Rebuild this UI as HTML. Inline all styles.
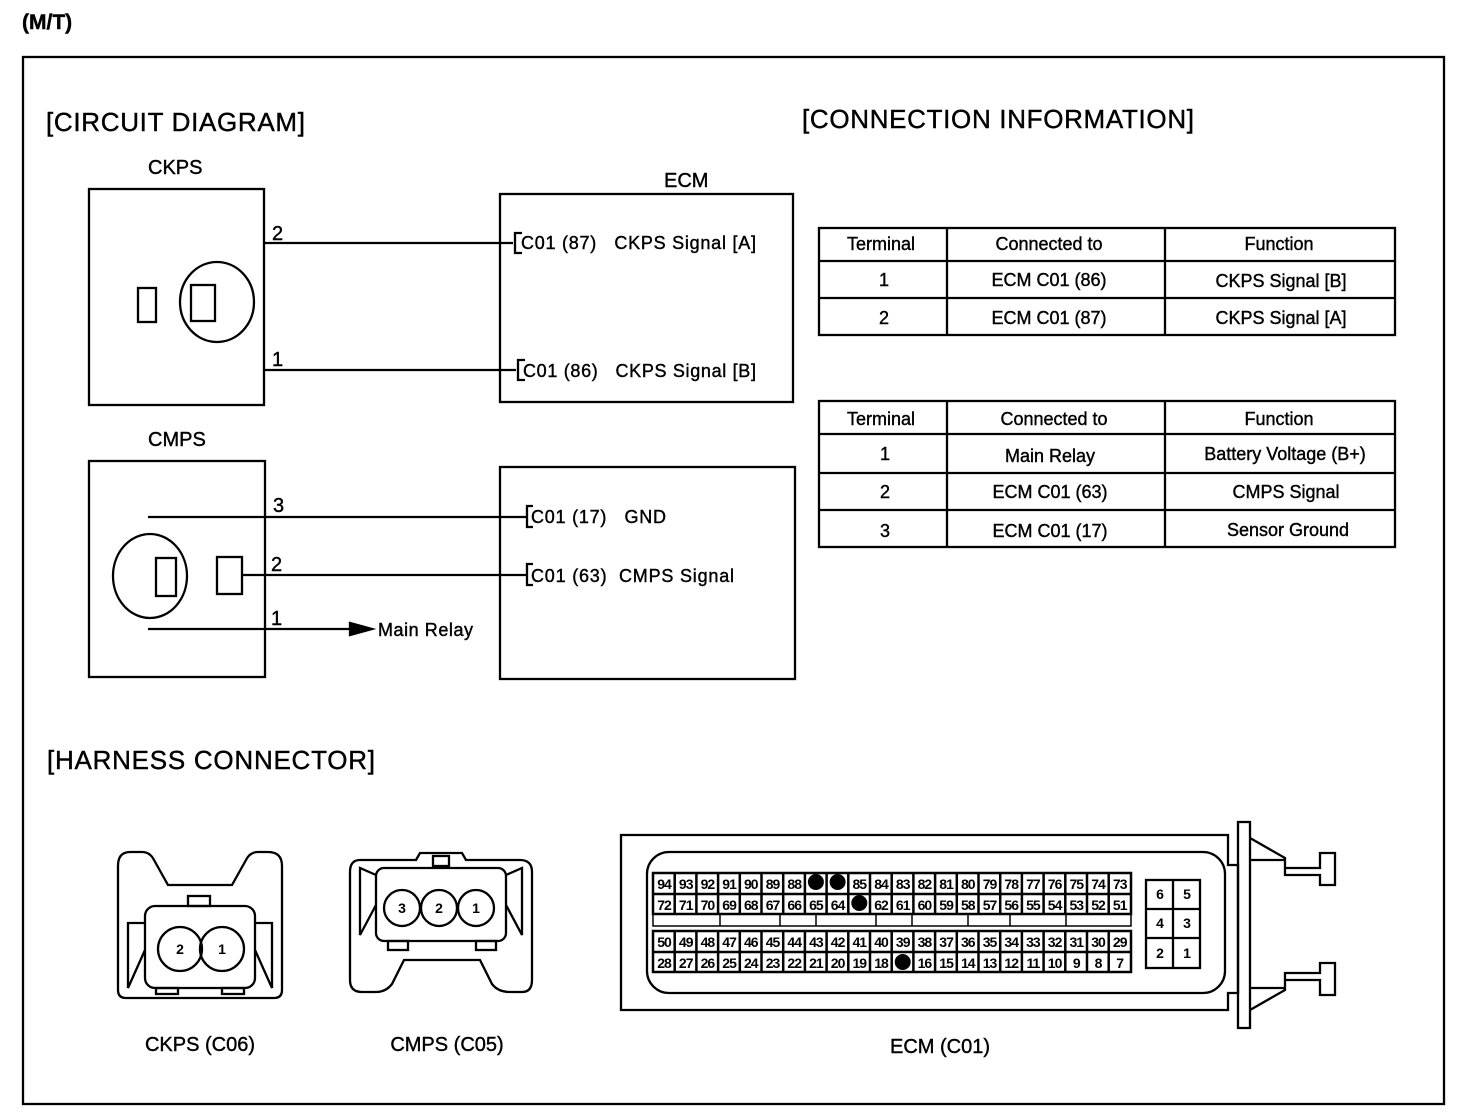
<!DOCTYPE html>
<html><head><meta charset="utf-8"><style>
body{margin:0;background:#fff}
svg{display:block}
text{font-family:"Liberation Sans",sans-serif;fill:#000;white-space:pre;stroke:#000;stroke-width:0.4}
.t{font-size:20px}
.h{font-size:26px}
.s{font-size:18px}
.n{font-size:14px;font-weight:bold;text-anchor:middle;stroke:none}
.c{text-anchor:middle}
</style></head><body>
<svg width="1472" height="1116" viewBox="0 0 1472 1116" xmlns="http://www.w3.org/2000/svg" fill="none" stroke="#000" stroke-width="2.3">
<text x="22" y="29" style="font-size:21px;font-weight:bold">(M/T)</text>
<rect x="23" y="57" width="1421" height="1047"/>
<g>
<text class="h" x="46" y="131" textLength="259">[CIRCUIT DIAGRAM]</text>
<text class="h" x="802" y="128" textLength="392">[CONNECTION INFORMATION]</text>
<text class="h" x="47" y="769" textLength="328">[HARNESS CONNECTOR]</text>
<text class="t" x="148" y="174">CKPS</text>
<text class="t" x="664" y="187">ECM</text>
<text class="t" x="148" y="446">CMPS</text>
</g>
<!-- CKPS -->
<rect x="89" y="189" width="175" height="216"/>
<rect x="138" y="288" width="18" height="34"/>
<ellipse cx="217" cy="302" rx="37" ry="40"/>
<rect x="191" y="285" width="24" height="36"/>
<rect x="500" y="194" width="293" height="208"/>
<line x1="264" y1="243" x2="513" y2="243"/>
<line x1="264" y1="370" x2="516" y2="370"/>
<path d="M522 233 H515 V253 H522"/>
<path d="M525 360 H518 V380 H525"/>
<g>
<text class="t" x="272" y="240">2</text>
<text class="t" x="272" y="366">1</text>
<text class="s" x="521" y="249" textLength="235">C01 (87)   CKPS Signal [A]</text>
<text class="s" x="523" y="377" textLength="233">C01 (86)   CKPS Signal [B]</text>
</g>
<!-- CMPS -->
<rect x="89" y="461" width="176" height="216"/>
<ellipse cx="150" cy="576" rx="37" ry="42"/>
<rect x="156" y="558" width="20" height="38"/>
<rect x="217" y="557" width="25" height="37"/>
<rect x="500" y="467" width="295" height="212"/>
<line x1="148" y1="517" x2="527" y2="517"/>
<line x1="242" y1="575" x2="527" y2="575"/>
<line x1="148" y1="629" x2="355" y2="629"/>
<path d="M350 623 L372 629 L350 635 Z" fill="#000"/>
<path d="M533 506 H527 V527 H533"/>
<path d="M533 564 H527 V585 H533"/>
<g>
<text class="t" x="273" y="512">3</text>
<text class="t" x="271" y="571">2</text>
<text class="t" x="271" y="625">1</text>
<text class="s" x="378" y="636" textLength="95">Main Relay</text>
<text class="s" x="531" y="523" textLength="135">C01 (17)   GND</text>
<text class="s" x="531" y="582" textLength="203">C01 (63)  CMPS Signal</text>
</g>
<!-- Table 1 -->
<rect x="819" y="228" width="576" height="107"/>
<line x1="819" y1="261" x2="1395" y2="261"/>
<line x1="819" y1="298" x2="1395" y2="298"/>
<line x1="947" y1="228" x2="947" y2="335"/>
<line x1="1165" y1="228" x2="1165" y2="335"/>
<g>
<text class="s c" x="881" y="250">Terminal</text>
<text class="s c" x="1049" y="250">Connected to</text>
<text class="s c" x="1279" y="250">Function</text>
<text class="s c" x="884" y="286">1</text>
<text class="s c" x="1049" y="286">ECM C01 (86)</text>
<text class="s c" x="1281" y="287">CKPS Signal [B]</text>
<text class="s c" x="884" y="324">2</text>
<text class="s c" x="1049" y="324">ECM C01 (87)</text>
<text class="s c" x="1281" y="324">CKPS Signal [A]</text>
</g>
<!-- Table 2 -->
<rect x="819" y="401" width="576" height="146"/>
<line x1="819" y1="434" x2="1395" y2="434"/>
<line x1="819" y1="473" x2="1395" y2="473"/>
<line x1="819" y1="510" x2="1395" y2="510"/>
<line x1="947" y1="401" x2="947" y2="547"/>
<line x1="1165" y1="401" x2="1165" y2="547"/>
<g>
<text class="s c" x="881" y="425">Terminal</text>
<text class="s c" x="1054" y="425">Connected to</text>
<text class="s c" x="1279" y="425">Function</text>
<text class="s c" x="885" y="460">1</text>
<text class="s c" x="1050" y="462">Main Relay</text>
<text class="s c" x="1285" y="460">Battery Voltage (B+)</text>
<text class="s c" x="885" y="498">2</text>
<text class="s c" x="1050" y="498">ECM C01 (63)</text>
<text class="s c" x="1286" y="498">CMPS Signal</text>
<text class="s c" x="885" y="537">3</text>
<text class="s c" x="1050" y="537">ECM C01 (17)</text>
<text class="s c" x="1288" y="536">Sensor Ground</text>
</g>
<!-- CKPS connector -->
<path d="M130 852 Q118 852 118 866 V990 Q118 998 126 998 H274 Q282 998 282 990 V866 Q282 852 268 852 H258 Q250 852 246 860 L232 885 H168 L154 860 Q150 852 142 852 Z"/>
<rect x="188" y="896" width="22" height="10"/>
<rect x="145" y="906" width="110" height="82" rx="10"/>
<path d="M145 923 H128 V988 L145 950 M255 923 H272 V988 L255 950"/>
<rect x="156" y="988" width="22" height="6"/><rect x="222" y="988" width="22" height="6"/>
<circle cx="180" cy="949" r="22"/><circle cx="222" cy="949" r="22"/>
<!-- CMPS connector -->
<path d="M360 860 Q350 860 350 872 V980 Q350 992 362 992 H376 Q386 992 392 984 L404 960 H480 L492 984 Q498 992 510 992 H522 Q532 992 532 980 V872 Q532 860 520 860 H466 L462 853 H420 L416 860 Z"/>
<rect x="433" y="856" width="16" height="10"/>
<rect x="376" y="868" width="130" height="73" rx="8"/>
<path d="M376 875 L360 868 V935 L376 905 M506 875 L522 868 V935 L506 905"/>
<rect x="388" y="941" width="20" height="9"/><rect x="476" y="941" width="20" height="9"/>
<circle cx="402" cy="908" r="18"/><circle cx="439" cy="908" r="18"/><circle cx="476" cy="908" r="18"/>
<g>
<text class="n" x="180" y="954">2</text><text class="n" x="222" y="954">1</text>
<text class="n" x="402" y="913">3</text><text class="n" x="439" y="913">2</text><text class="n" x="476" y="913">1</text>
<text class="t c" x="200" y="1051">CKPS (C06)</text>
<text class="t c" x="447" y="1051">CMPS (C05)</text>
<text class="t c" x="940" y="1053">ECM (C01)</text>
</g>
<!-- ECM connector -->
<path d="M621 835 H1228 V865 H1238 V993 H1228 V1010 H621 Z"/>
<rect x="647" y="852" width="578" height="141" rx="22"/>
<rect x="1238" y="822" width="12" height="206"/>
<path d="M1250 838 L1285 858 V868 H1320 V853 H1335 V885 H1320 V875 H1285 V868 M1250 860 H1285"/>
<path d="M1250 1010 L1285 990 V980 H1320 V995 H1335 V963 H1320 V973 H1285 V980 M1250 988 H1285"/>
<g stroke-width="2.5">
<rect x="653" y="873" width="478" height="41"/>
<line x1="653" y1="894" x2="1131" y2="894"/>
<rect x="653" y="931" width="478" height="41"/>
<line x1="653" y1="952" x2="1131" y2="952"/>
<path d="M674.7 873V914M696.4 873V914M718.1 873V914M739.8 873V914M761.5 873V914M783.2 873V914M804.9 873V914M826.6 873V914M848.3 873V914M870 873V914M891.7 873V914M913.4 873V914M935.1 873V914M956.8 873V914M978.5 873V914M1000.2 873V914M1021.9 873V914M1043.6 873V914M1065.3 873V914M1087 873V914M1108.7 873V914"/>
<path d="M674.7 931V972M696.4 931V972M718.1 931V972M739.8 931V972M761.5 931V972M783.2 931V972M804.9 931V972M826.6 931V972M848.3 931V972M870 931V972M891.7 931V972M913.4 931V972M935.1 931V972M956.8 931V972M978.5 931V972M1000.2 931V972M1021.9 931V972M1043.6 931V972M1065.3 931V972M1087 931V972M1108.7 931V972"/>
</g>
<path d="M653 914 V926 H1131 V914 M720 914 V926 M780 914 V926 M816 914 V926 M876 914 V926 M912 914 V926 M968 914 V926 M1010 914 V926 M1066 914 V926" stroke-width="1.5"/>
<rect x="1146" y="880" width="54" height="88"/>
<path d="M1173 880 V968 M1146 909 H1200 M1146 938 H1200"/>
<g fill="#000" stroke="none">
<circle cx="815.9" cy="882" r="8"/><circle cx="837.6" cy="882" r="8"/>
<circle cx="859.3" cy="903" r="8"/><circle cx="902.7" cy="962" r="8"/>
</g>
<g style="letter-spacing:-1px">
<text class="n" x="664" y="889">94</text><text class="n" x="685.7" y="889">93</text><text class="n" x="707.4" y="889">92</text><text class="n" x="729.1" y="889">91</text><text class="n" x="750.8" y="889">90</text><text class="n" x="772.5" y="889">89</text><text class="n" x="794.2" y="889">88</text><text class="n" x="859.3" y="889">85</text><text class="n" x="881" y="889">84</text><text class="n" x="902.7" y="889">83</text><text class="n" x="924.4" y="889">82</text><text class="n" x="946.1" y="889">81</text><text class="n" x="967.8" y="889">80</text><text class="n" x="989.5" y="889">79</text><text class="n" x="1011.2" y="889">78</text><text class="n" x="1032.9" y="889">77</text><text class="n" x="1054.6" y="889">76</text><text class="n" x="1076.3" y="889">75</text><text class="n" x="1098" y="889">74</text><text class="n" x="1119.7" y="889">73</text>
<text class="n" x="664" y="910">72</text><text class="n" x="685.7" y="910">71</text><text class="n" x="707.4" y="910">70</text><text class="n" x="729.1" y="910">69</text><text class="n" x="750.8" y="910">68</text><text class="n" x="772.5" y="910">67</text><text class="n" x="794.2" y="910">66</text><text class="n" x="815.9" y="910">65</text><text class="n" x="837.6" y="910">64</text><text class="n" x="881" y="910">62</text><text class="n" x="902.7" y="910">61</text><text class="n" x="924.4" y="910">60</text><text class="n" x="946.1" y="910">59</text><text class="n" x="967.8" y="910">58</text><text class="n" x="989.5" y="910">57</text><text class="n" x="1011.2" y="910">56</text><text class="n" x="1032.9" y="910">55</text><text class="n" x="1054.6" y="910">54</text><text class="n" x="1076.3" y="910">53</text><text class="n" x="1098" y="910">52</text><text class="n" x="1119.7" y="910">51</text>
<text class="n" x="664" y="947">50</text><text class="n" x="685.7" y="947">49</text><text class="n" x="707.4" y="947">48</text><text class="n" x="729.1" y="947">47</text><text class="n" x="750.8" y="947">46</text><text class="n" x="772.5" y="947">45</text><text class="n" x="794.2" y="947">44</text><text class="n" x="815.9" y="947">43</text><text class="n" x="837.6" y="947">42</text><text class="n" x="859.3" y="947">41</text><text class="n" x="881" y="947">40</text><text class="n" x="902.7" y="947">39</text><text class="n" x="924.4" y="947">38</text><text class="n" x="946.1" y="947">37</text><text class="n" x="967.8" y="947">36</text><text class="n" x="989.5" y="947">35</text><text class="n" x="1011.2" y="947">34</text><text class="n" x="1032.9" y="947">33</text><text class="n" x="1054.6" y="947">32</text><text class="n" x="1076.3" y="947">31</text><text class="n" x="1098" y="947">30</text><text class="n" x="1119.7" y="947">29</text>
<text class="n" x="664" y="968">28</text><text class="n" x="685.7" y="968">27</text><text class="n" x="707.4" y="968">26</text><text class="n" x="729.1" y="968">25</text><text class="n" x="750.8" y="968">24</text><text class="n" x="772.5" y="968">23</text><text class="n" x="794.2" y="968">22</text><text class="n" x="815.9" y="968">21</text><text class="n" x="837.6" y="968">20</text><text class="n" x="859.3" y="968">19</text><text class="n" x="881" y="968">18</text><text class="n" x="924.4" y="968">16</text><text class="n" x="946.1" y="968">15</text><text class="n" x="967.8" y="968">14</text><text class="n" x="989.5" y="968">13</text><text class="n" x="1011.2" y="968">12</text><text class="n" x="1032.9" y="968">11</text><text class="n" x="1054.6" y="968">10</text><text class="n" x="1076.3" y="968">9</text><text class="n" x="1098" y="968">8</text><text class="n" x="1119.7" y="968">7</text>
<text class="n" x="1159.5" y="899">6</text><text class="n" x="1186.5" y="899">5</text>
<text class="n" x="1159.5" y="928">4</text><text class="n" x="1186.5" y="928">3</text>
<text class="n" x="1159.5" y="958">2</text><text class="n" x="1186.5" y="958">1</text>
</g>
</svg>
</body></html>
